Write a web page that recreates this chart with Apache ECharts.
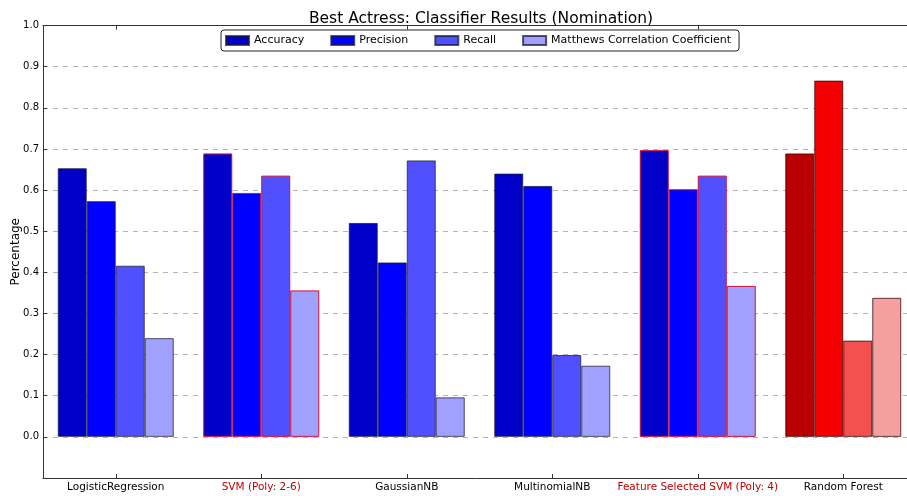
<!DOCTYPE html>
<html>
<head>
<meta charset="utf-8">
<script src="https://cdn.jsdelivr.net/npm/echarts@6/dist/echarts.min.js"></script>
<style>
  html, body { margin: 0; padding: 0; background: #ffffff; }
  #chart { width: 907px; height: 496px; }
</style>
</head>
<body>
<div id="chart"></div>
<script>
// Classifier scores for each model
var categories = ['LogisticRegression', 'SVM (Poly: 2-6)', 'GaussianNB', 'MultinomialNB', 'Feature Selected SVM (Poly: 4)', 'Random Forest'];
var accuracy  = [0.653, 0.689, 0.520, 0.640, 0.697, 0.689];
var precision = [0.573, 0.593, 0.424, 0.610, 0.602, 0.866];
var recall    = [0.416, 0.635, 0.672, 0.199, 0.635, 0.234];
var mcc       = [0.240, 0.356, 0.096, 0.173, 0.367, 0.338];
var metricNames = ['Accuracy', 'Precision', 'Recall', 'Matthews Correlation Coefficient'];
var yTicks = [0.0, 0.1, 0.2, 0.3, 0.4, 0.5, 0.6, 0.7, 0.8, 0.9, 1.0];

// Models drawn with a red outline / red label, and the model drawn in reds
var outlinedModels = ['SVM (Poly: 2-6)', 'Feature Selected SVM (Poly: 4)'];
var bestModel = 'Random Forest';

var FONT = 'DejaVu Sans';
var blues = ['#0000c8', '#0000ff', '#5050ff', '#a0a0ff'];
var reds  = ['#b80000', '#f50000', '#f55050', '#f5a0a0'];
var darkEdge = 'rgba(30,30,50,0.75)';
var redEdge = '#d0103a';

function buildSeries(values, k) {
  return {
    name: metricNames[k],
    type: 'bar',
    barWidth: 29,
    barGap: '0%',
    xAxisIndex: 0,
    itemStyle: { color: blues[k], borderColor: darkEdge, borderWidth: 1 },
    emphasis: { disabled: true },
    data: values.map(function (v, i) {
      var item = { value: v };
      var cat = categories[i];
      if (cat === bestModel) {
        item.itemStyle = { color: reds[k], borderColor: 'rgba(50,0,0,0.75)', borderWidth: 1 };
      } else if (outlinedModels.indexOf(cat) >= 0) {
        item.itemStyle = { color: blues[k], borderColor: redEdge, borderWidth: 1 };
      }
      return item;
    })
  };
}

var chart = echarts.init(document.getElementById('chart'), null, { renderer: 'canvas' });

chart.setOption({
  animation: false,
  backgroundColor: '#ffffff',
  textStyle: { fontFamily: FONT },
  title: {
    text: 'Best Actress: Classifier Results (Nomination)',
    left: 476,
    textAlign: 'center',
    top: 6,
    textStyle: { fontFamily: FONT, fontSize: 15.5, fontWeight: 'normal', color: '#000' }
  },
  legend: {
    data: metricNames,
    top: 30,
    left: 221,
    itemWidth: 23,
    itemHeight: 9,
    itemGap: 26,
    padding: [5, 8, 5, 4],
    borderColor: '#222',
    borderWidth: 1,
    borderRadius: 3,
    textStyle: { fontFamily: FONT, fontSize: 11, color: '#000' },
    icon: 'rect'
  },
  grid: {
    left: 43,
    top: 25.5,
    width: 873,
    height: 452.5,
    outerBoundsMode: 'none'
  },
  xAxis: [
    {
      type: 'category',
      data: categories,
      position: 'bottom',
      axisLine: { onZero: false, lineStyle: { color: '#333', width: 1 } },
      axisTick: { show: true, alignWithLabel: true, inside: true, length: 4, lineStyle: { color: '#333' } },
      axisLabel: {
        fontFamily: FONT,
        fontSize: 10.5,
        color: '#000',
        margin: 4,
        interval: 0,
        formatter: function (v) {
          return outlinedModels.indexOf(v) >= 0 ? '{red|' + v + '}' : v;
        },
        rich: { red: { color: '#c00000', fontFamily: FONT, fontSize: 10.5 } }
      },
      splitLine: { show: false }
    },
    {
      type: 'category',
      data: categories,
      position: 'top',
      axisLine: { onZero: false, lineStyle: { color: '#333', width: 1 } },
      axisTick: { show: true, alignWithLabel: true, inside: true, length: 4, lineStyle: { color: '#333' } },
      axisLabel: { show: false },
      splitLine: { show: false }
    }
  ],
  yAxis: {
    type: 'value',
    min: -0.1,
    max: 1.0,
    interval: 0.1,
    name: 'Percentage',
    nameLocation: 'middle',
    nameGap: 21,
    nameMoveOverlap: false,
    nameTextStyle: { fontFamily: FONT, fontSize: 12, color: '#000' },
    axisLine: { show: true, lineStyle: { color: '#333', width: 1 } },
    axisTick: { show: true, inside: true, length: 4, lineStyle: { color: '#333' } },
    axisLabel: {
      fontFamily: FONT,
      fontSize: 10,
      color: '#000',
      margin: 4,
      formatter: function (v) {
        var r = Math.round(v * 10) / 10;
        return yTicks.indexOf(r) >= 0 && v > -0.05 ? r.toFixed(1) : '';
      }
    },
    splitLine: { show: true, lineStyle: { color: '#b4b4b4', type: [5, 5], width: 1 } }
  },
  series: [
    buildSeries(accuracy, 0),
    buildSeries(precision, 1),
    buildSeries(recall, 2),
    buildSeries(mcc, 3)
  ]
});
</script>
</body>
</html>
